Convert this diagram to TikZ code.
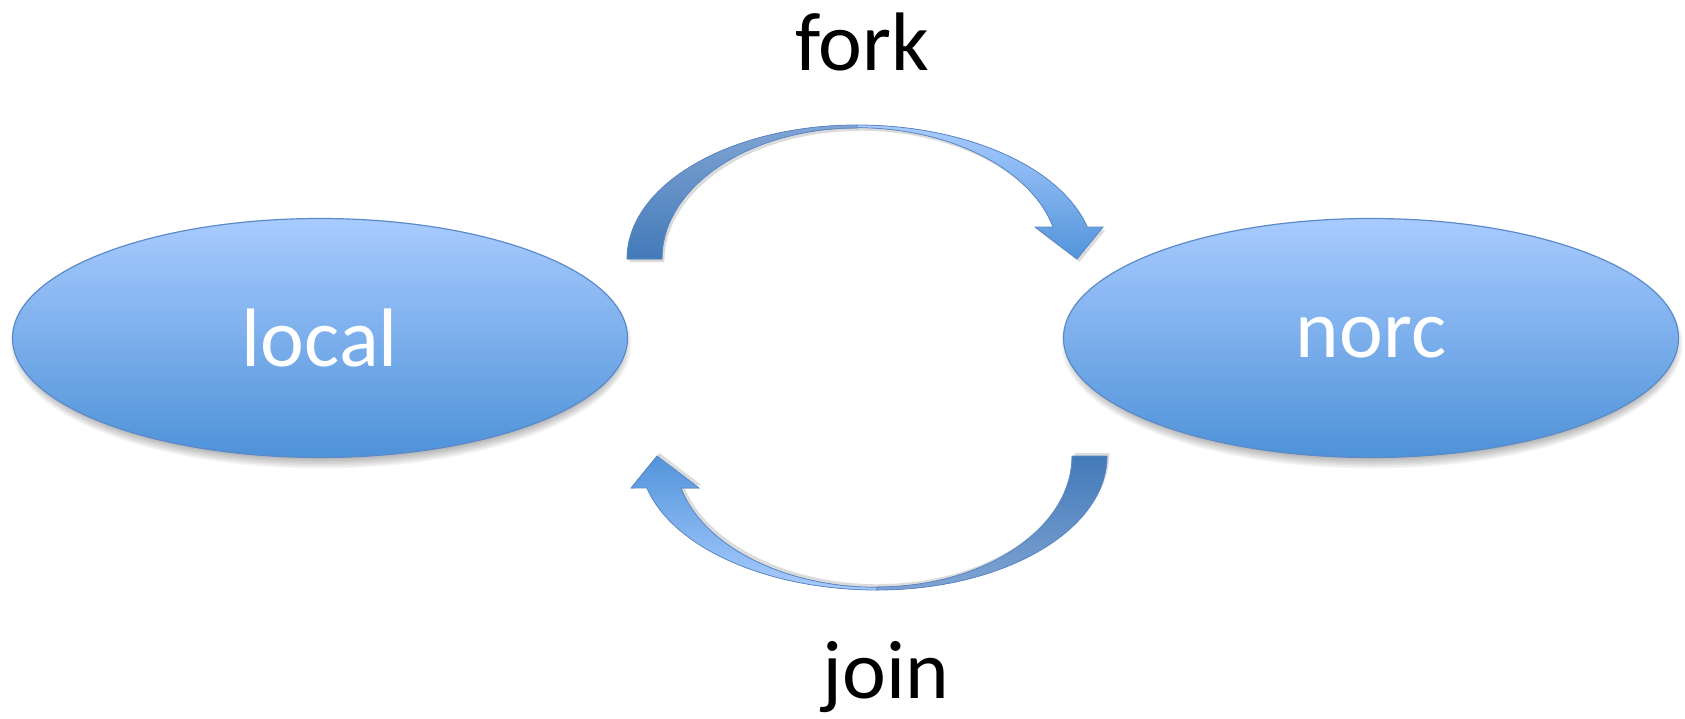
\documentclass[tikz,border=0pt]{standalone}
\usepackage{fontspec}
\setmainfont{Carlito}
\usetikzlibrary{shapes.geometric, shadows}

\definecolor{ovaltop}{RGB}{168,203,255}
\definecolor{ovalbot}{RGB}{78,146,216}
\definecolor{ovalline}{RGB}{92,138,200}
\definecolor{backtop}{RGB}{128,164,212}
\definecolor{backbot}{RGB}{66,122,184}
\definecolor{fronttop}{RGB}{168,203,255}
\definecolor{frontbot}{RGB}{82,148,218}

% one curved block arrow (rising band, falling band with head)
\newcommand{\bentarrow}[3]{%
  \fill[backband, #1, #3] (627,259)
    arc[start angle=180, end angle=270, x radius=230, y radius=134]
    -- (857,128)
    arc[start angle=270, end angle=180, x radius=195, y radius=131] -- cycle;
  \fill[frontband, #2, #3] (857,125)
    arc[start angle=270, end angle=346.2, x radius=237, y radius=134]
    -- (1103,227) -- (1077,259) -- (1035,227) -- (1053,227)
    arc[start angle=346, end angle=270, x radius=202, y radius=131] -- cycle;}

\begin{document}
\begin{tikzpicture}[x=1pt, y=-1pt,
  font=\fontsize{83}{90}\selectfont,
  oval/.style={ellipse, draw=ovalline, line width=1.2pt, text=white,
               top color=ovaltop, bottom color=ovalbot,
               minimum width=615pt, minimum height=239pt, inner sep=0pt},
  backband/.style={draw=ovalline, line width=0.8pt,
                   top color=backtop, bottom color=backbot},
  frontband/.style={draw=ovalline, line width=0.8pt,
                    top color=fronttop, bottom color=frontbot},
  label/.style={inner sep=0pt, text=black}]
  \useasboundingbox (0,0) rectangle (1685,718);
  % soft shadows under the ovals
  \foreach \cx in {321,1372}
    \foreach \k in {0,...,7}
      \fill[black, opacity=0.045] (\cx,344)
        ellipse[x radius=300+1.5*\k, y radius=114+1.5*\k];
  % ovals
  \node[oval] (local) at (320,338) {local};
  \node[oval] (norc) at (1371,338) {norc};
  % arrows
  \coordinate (pivot) at (867,357.5);
  \bentarrow{}{}{drop shadow={shadow yshift=-3pt, opacity=0.14, fill=black}}
  \begin{scope}[rotate around={180:(pivot)}]
    \bentarrow{shading angle=180}{shading angle=180}%
      {drop shadow={shadow yshift=3pt, opacity=0.14, fill=black}}
  \end{scope}
  % labels
  \node[label, anchor=base] (fork) at (862,70) {fork};
  \node[label, anchor=base] (join) at (886,698) {join};
\end{tikzpicture}
\end{document}
